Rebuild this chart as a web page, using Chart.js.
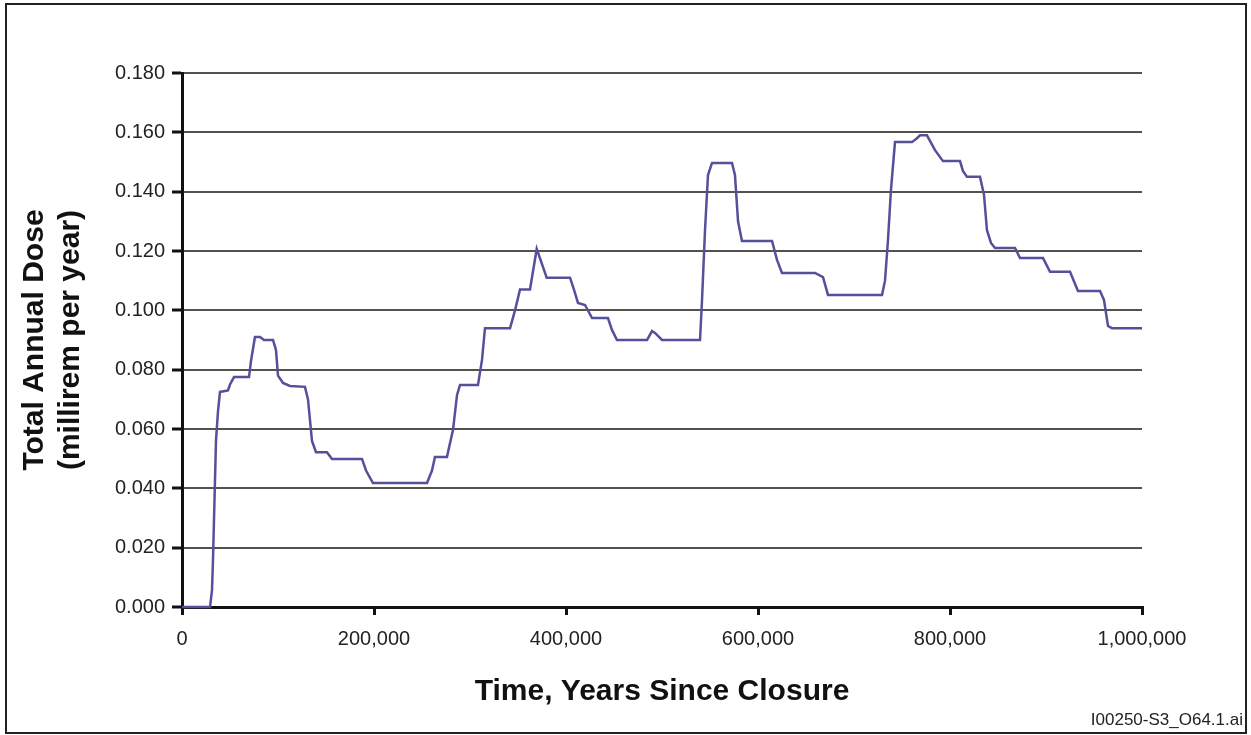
<!DOCTYPE html>
<html>
<head>
<meta charset="utf-8">
<title>Total Annual Dose</title>
<script src="https://cdn.jsdelivr.net/npm/chart.js@4.4.1/dist/chart.umd.min.js"></script>
<style>
  html, body { margin: 0; padding: 0; background: #fff; }
  #wrap { width: 1251px; height: 735px; position: relative; }
</style>
</head>
<body>
<div id="wrap"><canvas id="chart-dose"></canvas></div>
<script>
// years since closure
var years = [
  0, 29200, 31250, 32300, 35400, 37500, 39600, 47900, 50000, 54200,
  69800, 71900, 76000, 81300, 85400, 94800, 97900, 100000, 105200, 112500,
  128100, 131250, 135400, 139600, 151000, 156250, 187500, 191700, 198900, 255200,
  260400, 263500, 276000, 282300, 286500, 289600, 308300, 312500, 315600, 341700,
  346900, 352100, 362500, 369500, 379900, 404200, 408300, 412500, 419800, 427100,
  443700, 447900, 453100, 484400, 489600, 492700, 500000, 539600, 541700, 544800,
  547900, 552100, 572900, 576000, 579200, 583300, 614600, 619800, 625000, 659400,
  667700, 672900, 729200, 732300, 735400, 738500, 742700, 760400, 765600, 768800,
  776000, 784400, 792700, 810400, 813500, 817700, 831200, 835400, 838500, 842700,
  846900, 867700, 872900, 896900, 904200, 925000, 933300, 956250, 960400, 964600,
  968750, 1000000
];

// total annual dose, millirem per year
var dose = [
  0, 0, 0.0057, 0.016, 0.056, 0.066, 0.0725, 0.073, 0.075, 0.0775,
  0.0775, 0.083, 0.091, 0.091, 0.090, 0.090, 0.0866, 0.078, 0.0755, 0.0745,
  0.0742, 0.070, 0.056, 0.0522, 0.0522, 0.0499, 0.0499, 0.046, 0.0418, 0.0418,
  0.046, 0.0506, 0.0506, 0.0597, 0.0715, 0.0748, 0.0748, 0.0833, 0.094, 0.094,
  0.100, 0.107, 0.107, 0.1207, 0.111, 0.111, 0.107, 0.1025, 0.1018, 0.0974,
  0.0974, 0.0934, 0.090, 0.090, 0.093, 0.0924, 0.090, 0.090, 0.1035, 0.127,
  0.1456, 0.1497, 0.1497, 0.1456, 0.130, 0.1234, 0.1234, 0.117, 0.1126, 0.1126,
  0.1112, 0.1052, 0.1052, 0.110, 0.1237, 0.1406, 0.1567, 0.1567, 0.158, 0.159,
  0.159, 0.154, 0.1503, 0.1503, 0.147, 0.145, 0.145, 0.139, 0.127, 0.1227,
  0.121, 0.121, 0.1176, 0.1176, 0.113, 0.113, 0.1065, 0.1065, 0.1035, 0.0947,
  0.094, 0.094
];

var xTicks = [0, 200000, 400000, 600000, 800000, 1000000];
var yTicks = [0, 0.02, 0.04, 0.06, 0.08, 0.10, 0.12, 0.14, 0.16, 0.18];
var yTitle = ["Total Annual Dose", "(millirem per year)"];
var xTitle = "Time, Years Since Closure";
var figureId = "I00250-S3_O64.1.ai";

var points = years.map(function (yr, i) { return { x: yr, y: dose[i] }; });

var FONT = "'Liberation Sans', Arial, sans-serif";

// white background, frame and figure id
var framePlugin = {
  id: "frame",
  beforeDraw: function (chart) {
    var c = chart.ctx;
    c.save();
    c.fillStyle = "#fff";
    c.fillRect(0, 0, chart.width, chart.height);
    c.restore();
  },
  afterDraw: function (chart) {
    var c = chart.ctx;
    c.save();
    c.strokeStyle = "#222";
    c.lineWidth = 2;
    c.strokeRect(6, 4, 1240, 729);
    c.fillStyle = "#222";
    c.font = "17px " + FONT;
    c.textAlign = "right";
    c.textBaseline = "alphabetic";
    c.fillText(figureId, 1243, 725);
    c.restore();
  }
};

var ctx = document.getElementById("chart-dose").getContext("2d");

new Chart(ctx, {
  type: "line",
  data: {
    datasets: [
      {
        label: "Total Annual Dose",
        data: points,
        borderColor: "#55509a",
        borderWidth: 2.5,
        pointRadius: 0,
        tension: 0,
        fill: false,
        clip: false,
      },
    ],
  },
  options: {
    responsive: true,
    maintainAspectRatio: false,
    animation: false,
    layout: {
      padding: { left: 0, top: 73, right: 109, bottom: 0 },
    },
    plugins: {
      legend: { display: false },
      tooltip: { enabled: false },
    },
    scales: {
      x: {
        type: "linear",
        min: 0,
        max: 1000000,
        afterFit: function (scale) { scale.height = 128; },
        afterBuildTicks: function (scale) {
          scale.ticks = xTicks.map(function (v) { return { value: v }; });
        },
        border: { display: true, color: "#111", width: 3 },
        grid: {
          drawOnChartArea: false,
          drawTicks: true,
          tickLength: 8,
          tickColor: "#111",
          lineWidth: 3,
        },
        ticks: {
          padding: 12,
          maxRotation: 0,
          color: "#222",
          font: { size: 20, family: FONT },
          callback: function (v) { return Number(v).toLocaleString("en-US"); },
        },
        title: {
          display: true,
          text: xTitle,
          color: "#111",
          padding: { top: 0, bottom: 25 },
          font: { size: 30, weight: "bold", family: FONT, lineHeight: 1.2 },
        },
      },
      y: {
        min: 0,
        max: 0.18,
        afterFit: function (scale) { scale.width = 182; },
        afterBuildTicks: function (scale) {
          scale.ticks = yTicks.map(function (v) { return { value: v }; });
        },
        border: { display: true, color: "#111", width: 3 },
        grid: {
          color: "#55524c",
          lineWidth: 2,
          drawTicks: true,
          tickLength: 10,
          tickColor: "#111",
          tickWidth: 3,
        },
        ticks: {
          padding: 7,
          color: "#222",
          font: { size: 20, family: FONT },
          callback: function (v) { return Number(v).toFixed(3); },
        },
        title: {
          display: true,
          text: yTitle,
          color: "#111",
          padding: { top: 17, bottom: 0 },
          font: { size: 30, weight: "bold", family: FONT, lineHeight: 1.2 },
        },
      },
    },
  },
  plugins: [framePlugin],
});
</script>
</body>
</html>
